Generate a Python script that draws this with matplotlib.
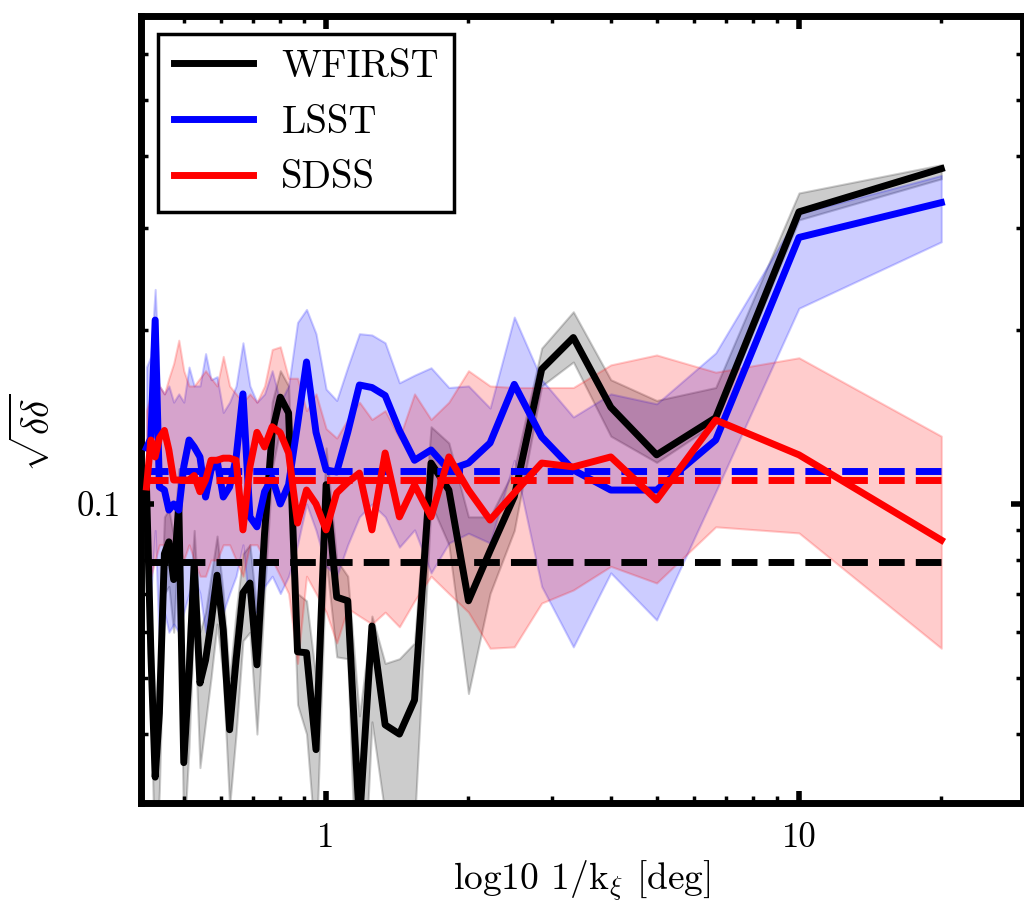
import matplotlib
matplotlib.use("Agg")
import matplotlib.pyplot as plt
from matplotlib.ticker import FixedLocator, NullFormatter, FixedFormatter

plt.rcParams['font.family'] = 'serif'
plt.rcParams['font.serif'] = ['cmr10']
plt.rcParams['mathtext.fontset'] = 'cm'
plt.rcParams['axes.formatter.use_mathtext'] = True

# angular scale 1/k [deg]
scale = [20.0, 10.0, 6.667, 5.0, 4.0, 3.333, 2.857, 2.5, 2.222, 2.0,
         1.818, 1.667, 1.538, 1.429, 1.333, 1.25, 1.176, 1.111, 1.053, 1.0,
         0.952, 0.909, 0.870, 0.833, 0.8, 0.769, 0.741, 0.714, 0.690, 0.667,
         0.645, 0.625, 0.606, 0.588, 0.571, 0.556, 0.541, 0.526, 0.513, 0.5,
         0.488, 0.476, 0.465, 0.455, 0.444, 0.435, 0.426, 0.417]

wfirst = [0.38, 0.32, 0.141, 0.1216, 0.147, 0.194, 0.171, 0.103, 0.083, 0.068,
          0.1057, 0.1177, 0.0458, 0.0400, 0.0415, 0.0615, 0.028, 0.068, 0.069, 0.108,
          0.0376, 0.0553, 0.0555, 0.1437, 0.153, 0.133, 0.089, 0.0527, 0.073, 0.0702,
          0.0537, 0.0407, 0.0605, 0.0753, 0.0622, 0.0537, 0.049, 0.079, 0.051, 0.0357,
          0.100, 0.074, 0.086, 0.082, 0.0435, 0.0337, 0.0552, 0.107]
wfirst_lo = [0.365, 0.31, 0.138, 0.118, 0.131, 0.176, 0.16, 0.09, 0.07, 0.047,
             0.085, 0.1, 0.028, 0.026, 0.029, 0.042, 0.015, 0.054, 0.0544, 0.08,
             0.025, 0.04, 0.045, 0.125, 0.135, 0.115, 0.07, 0.04, 0.06, 0.058,
             0.04, 0.03, 0.05, 0.062, 0.05, 0.042, 0.035, 0.065, 0.038, 0.026,
             0.09, 0.06, 0.072, 0.07, 0.032, 0.022, 0.045, 0.09]
wfirst_hi = [0.386, 0.345, 0.159, 0.151, 0.164, 0.215, 0.186, 0.115, 0.095, 0.095,
             0.1275, 0.136, 0.0575, 0.054, 0.053, 0.064, 0.043, 0.075, 0.08, 0.125,
             0.05, 0.068, 0.07, 0.16, 0.17, 0.15, 0.1, 0.065, 0.085, 0.082,
             0.065, 0.05, 0.07, 0.088, 0.075, 0.065, 0.06, 0.09, 0.065, 0.045,
             0.115, 0.088, 0.098, 0.095, 0.055, 0.044, 0.066, 0.12]

lsst = [0.332, 0.289, 0.129, 0.1057, 0.1057, 0.1145, 0.1306, 0.161, 0.1275, 0.1177,
        0.1145, 0.124, 0.119, 0.134, 0.154, 0.159, 0.1606, 0.133, 0.1136, 0.1145,
        0.133, 0.176, 0.137, 0.108, 0.100, 0.111, 0.105, 0.0913, 0.095, 0.155,
        0.12, 0.107, 0.1028, 0.119, 0.1145, 0.1028, 0.1206, 0.1255, 0.129, 0.116,
        0.0976, 0.100, 0.0976, 0.1057, 0.107, 0.208, 0.13, 0.125]
lsst_lo = [0.284, 0.218, 0.105, 0.063, 0.076, 0.0566, 0.072, 0.119, 0.0856, 0.089,
           0.0856, 0.076, 0.0902, 0.0842, 0.095, 0.1, 0.095, 0.085, 0.075, 0.078,
           0.09, 0.1, 0.085, 0.075, 0.07, 0.075, 0.072, 0.065, 0.065, 0.085,
           0.075, 0.07, 0.065, 0.075, 0.07, 0.06, 0.07, 0.075, 0.07, 0.065,
           0.06, 0.062, 0.06, 0.065, 0.056, 0.09, 0.07, 0.075]
lsst_hi = [0.37, 0.318, 0.1825, 0.149, 0.155, 0.1414, 0.164, 0.2105, 0.1465, 0.160,
           0.159, 0.172, 0.167, 0.162, 0.19, 0.196, 0.197, 0.1725, 0.151, 0.158,
           0.197, 0.217, 0.206, 0.16, 0.15, 0.17, 0.155, 0.15, 0.16, 0.19,
           0.16, 0.15, 0.144, 0.166, 0.164, 0.182, 0.16, 0.16, 0.1725, 0.15,
           0.155, 0.15, 0.16, 0.155, 0.16, 0.235, 0.18, 0.1725]

sdss = [0.0866, 0.1216, 0.1397, 0.1016, 0.1206, 0.1159, 0.1177, 0.1045, 0.0938, 0.1057,
        0.1206, 0.095, 0.1079, 0.095, 0.1225, 0.0902, 0.1131, 0.109, 0.1045, 0.0902,
        0.100, 0.1057, 0.0927, 0.1225, 0.1327, 0.136, 0.1255, 0.133, 0.116, 0.0902,
        0.119, 0.12, 0.12, 0.119, 0.119, 0.11, 0.105, 0.112, 0.11, 0.11,
        0.11, 0.11, 0.124, 0.134, 0.13, 0.1206, 0.129, 0.107]
sdss_lo = [0.0563, 0.0891, 0.0913, 0.073, 0.078, 0.071, 0.0674, 0.0566, 0.0563, 0.065,
           0.07, 0.075, 0.068, 0.0613, 0.065, 0.062, 0.064, 0.066, 0.0575, 0.065,
           0.07, 0.075, 0.053, 0.07, 0.075, 0.08, 0.08, 0.085, 0.085, 0.075,
           0.08, 0.085, 0.085, 0.08, 0.08, 0.075, 0.075, 0.08, 0.085, 0.08,
           0.085, 0.08, 0.08, 0.085, 0.085, 0.08, 0.075, 0.075]
sdss_hi = [0.131, 0.179, 0.169, 0.181, 0.174, 0.159, 0.159, 0.159, 0.16, 0.17,
           0.15, 0.14, 0.155, 0.13, 0.145, 0.14, 0.15, 0.14, 0.13, 0.135,
           0.155, 0.145, 0.165, 0.165, 0.187, 0.185, 0.16, 0.15, 0.155, 0.15,
           0.155, 0.16, 0.18, 0.16, 0.165, 0.17, 0.165, 0.16, 0.16, 0.17,
           0.192, 0.175, 0.165, 0.155, 0.16, 0.17, 0.155, 0.145]

# reference levels (dashed)
level_wfirst = 0.0794
level_lsst = 0.1141
level_sdss = 0.110

labels = ['WFIRST', 'LSST', 'SDSS']
colors = ['k', 'b', 'r']

fig = plt.figure(figsize=(10.24, 9.06), dpi=100)
ax = fig.add_axes([140.5 / 1024, 1 - 803 / 906, (1022.5 - 140.5) / 1024, (803 - 16) / 906])

series = [(wfirst, wfirst_lo, wfirst_hi, level_wfirst),
          (lsst, lsst_lo, lsst_hi, level_lsst),
          (sdss, sdss_lo, sdss_hi, level_sdss)]

for (val, lo, hi, lev), c in zip(series, colors):
    ax.fill_between(scale, lo, hi, color=c, alpha=0.2, linewidth=1.5, zorder=1)

handles = []
for (val, lo, hi, lev), c, lab in zip(series, colors, labels):
    h, = ax.plot(scale, val, color=c, lw=5, label=lab, zorder=3)
    ax.plot([scale[0], scale[-1]], [lev, lev], color=c, lw=5, ls='--', zorder=3)
    handles.append(h)

ax.set_xscale('log')
ax.set_yscale('log')
ax.set_xlim(0.405, 29.7)
ax.set_ylim(0.0304, 0.698)

ax.xaxis.set_major_locator(FixedLocator([1, 10]))
ax.xaxis.set_major_formatter(FixedFormatter(['1', '10']))
ax.xaxis.set_minor_locator(FixedLocator([0.4, 0.5, 0.6, 0.7, 0.8, 0.9, 2, 3, 4, 5, 6, 7, 8, 9, 20]))
ax.xaxis.set_minor_formatter(NullFormatter())
ax.yaxis.set_major_locator(FixedLocator([0.1]))
ax.yaxis.set_major_formatter(FixedFormatter(['0.1']))
ax.yaxis.set_minor_locator(FixedLocator([0.04, 0.05, 0.06, 0.07, 0.08, 0.09, 0.2, 0.3, 0.4, 0.5, 0.6]))
ax.yaxis.set_minor_formatter(NullFormatter())

ax.tick_params(which='both', direction='in', top=True, right=True)
ax.tick_params(which='major', length=9, width=4, labelsize=25, pad=14)
ax.tick_params(which='minor', length=5, width=2.5)
for s in ax.spines.values():
    s.set_linewidth(5)

ax.set_xlabel(r'log10 1/k$_\xi$ [deg]', fontsize=27, labelpad=3)
ax.set_ylabel(r'$\sqrt{\delta\delta}$', fontsize=28)
ax.yaxis.set_label_coords(-0.094, 0.471)

leg = ax.legend(handles=handles, loc='upper left', fontsize=28, frameon=True,
                fancybox=False, framealpha=1, edgecolor='k',
                handlelength=2.05, handletextpad=0.72, labelspacing=0.51,
                borderpad=0.4, borderaxespad=0.45)
leg.get_frame().set_linewidth(2.5)

fig.savefig('out.png', dpi=100)
